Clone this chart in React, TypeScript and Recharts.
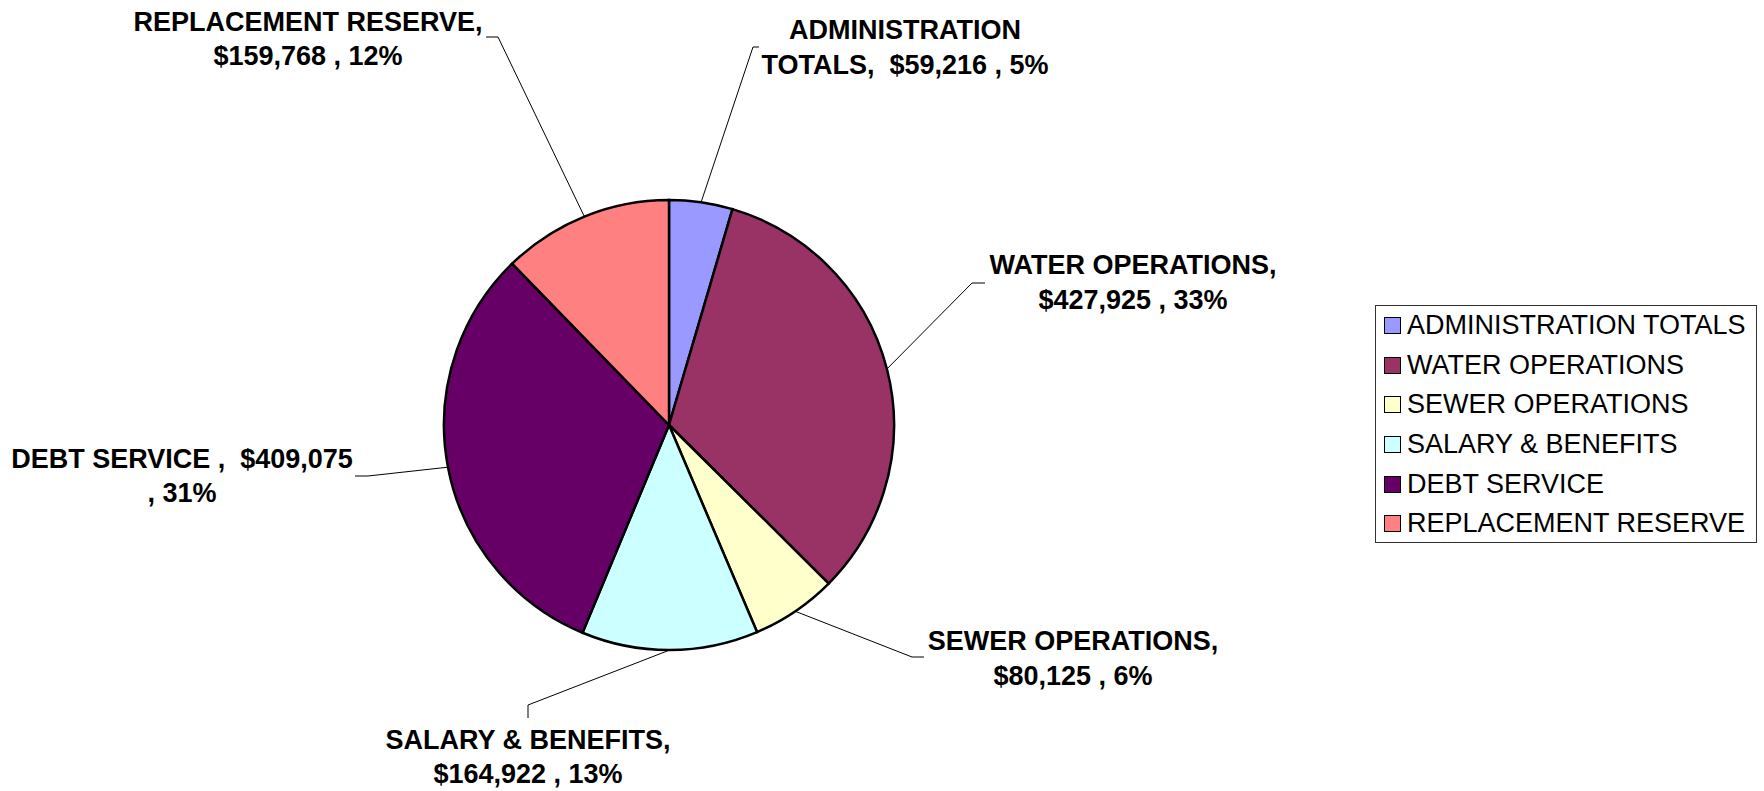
import { PieChart, Pie, Cell, Legend } from "recharts";

const NAMES = [
  "ADMINISTRATION TOTALS",
  "WATER OPERATIONS",
  "SEWER OPERATIONS",
  "SALARY & BENEFITS",
  "DEBT SERVICE ",
  "REPLACEMENT RESERVE",
];
const VALUES = [59216, 427925, 80125, 164922, 409075, 159768];
const COLORS = ["#9999FF", "#993366", "#FFFFCC", "#CCFFFF", "#660066", "#FF8080"];

// label layout, offsets from the pie centre: leader elbow, leader tail, text centre
const LABEL_LAYOUT = [
  { elbow: [84, -378], tail: [90, -378], text: [236, -395], gap: 35, breakAt: 14 },
  { elbow: [303, -142], tail: [316, -142], text: [464, -160], gap: 35, breakAt: 0 },
  { elbow: [243, 232], tail: [255, 232], text: [404, 216], gap: 35, breakAt: 0 },
  { elbow: [-141, 280], tail: [-141, 293], text: [-141, 315], gap: 34, breakAt: 0 },
  { elbow: [-301, 51], tail: [-314, 51], text: [-487, 34], gap: 34, breakAt: 24 },
  { elbow: [-171, -388], tail: [-183, -388], text: [-361, -403], gap: 34, breakAt: 0 },
];

const FONT = "'Liberation Sans', Arial, Helvetica, sans-serif";
const RADIAN = Math.PI / 180;
const TOTAL = VALUES.reduce((s, v) => s + v, 0);

const data = NAMES.map((name, i) => ({ name, value: VALUES[i] }));

function labelLines(i: number) {
  const money = "$" + VALUES[i].toLocaleString("en-US");
  const pct = Math.round((VALUES[i] / TOTAL) * 100);
  const full = `${NAMES[i]},  ${money} , ${pct}%`;
  const cut = LABEL_LAYOUT[i].breakAt || NAMES[i].length + 1;
  return [full.slice(0, cut), full.slice(cut).trim()];
}

function renderLabel(props: any) {
  const { cx, cy, midAngle, outerRadius, index } = props;
  const lay = LABEL_LAYOUT[index];
  const sx = cx + outerRadius * Math.cos(-midAngle * RADIAN);
  const sy = cy + outerRadius * Math.sin(-midAngle * RADIAN);
  const ex = cx + lay.elbow[0];
  const ey = cy + lay.elbow[1];
  const tx = cx + lay.tail[0];
  const ty = cy + lay.tail[1];
  const [l1, l2] = labelLines(index);
  const x = cx + lay.text[0];
  const y = cy + lay.text[1];
  return (
    <g key={`lbl-${index}`}>
      <polyline
        points={`${sx},${sy} ${ex},${ey} ${tx},${ty}`}
        fill="none"
        stroke="#000"
        strokeWidth={1}
      />
      <text
        x={x}
        y={y}
        textAnchor="middle"
        dominantBaseline="central"
        fontFamily={FONT}
        fontWeight="bold"
        fontSize={27}
        fill="#000"
        style={{ whiteSpace: "pre" }}
      >
        <tspan x={x} y={y}>{l1}</tspan>
        <tspan x={x} y={y + lay.gap}>{l2}</tspan>
      </text>
    </g>
  );
}

function LegendBox() {
  return (
    <div
      style={{
        border: "1px solid #333",
        boxSizing: "border-box",
        width: 382,
        height: 238,
        background: "#fff",
        fontFamily: FONT,
        fontSize: 27,
        color: "#000",
      }}
    >
      {NAMES.map((name, i) => (
        <div
          key={name}
          style={{ display: "flex", alignItems: "center", height: 39.6, paddingLeft: 8 }}
        >
          <span
            style={{
              display: "inline-block",
              width: 15,
              height: 15,
              background: COLORS[i],
              border: "1.5px solid #000",
              marginRight: 6,
            }}
          />
          <span style={{ whiteSpace: "pre" }}>{name.trim()}</span>
        </div>
      ))}
    </div>
  );
}

export default function App() {
  return (
    <div style={{ position: "absolute", left: 0, top: 0, background: "#fff" }}>
      <PieChart width={1764} height={791} margin={{ top: 0, right: 0, bottom: 0, left: 0 }}>
        <Pie
          data={data}
          dataKey="value"
          nameKey="name"
          cx={669}
          cy={425}
          outerRadius={225}
          startAngle={90}
          endAngle={-270}
          stroke="#000"
          strokeWidth={2.5}
          label={renderLabel}
          labelLine={false}
          isAnimationActive={false}
        >
          {data.map((_, i) => (
            <Cell key={i} fill={COLORS[i]} />
          ))}
        </Pie>
        <Legend
          content={() => <LegendBox />}
          wrapperStyle={{ left: 1375, top: 305, width: 382, height: 238 }}
        />
      </PieChart>
    </div>
  );
}
